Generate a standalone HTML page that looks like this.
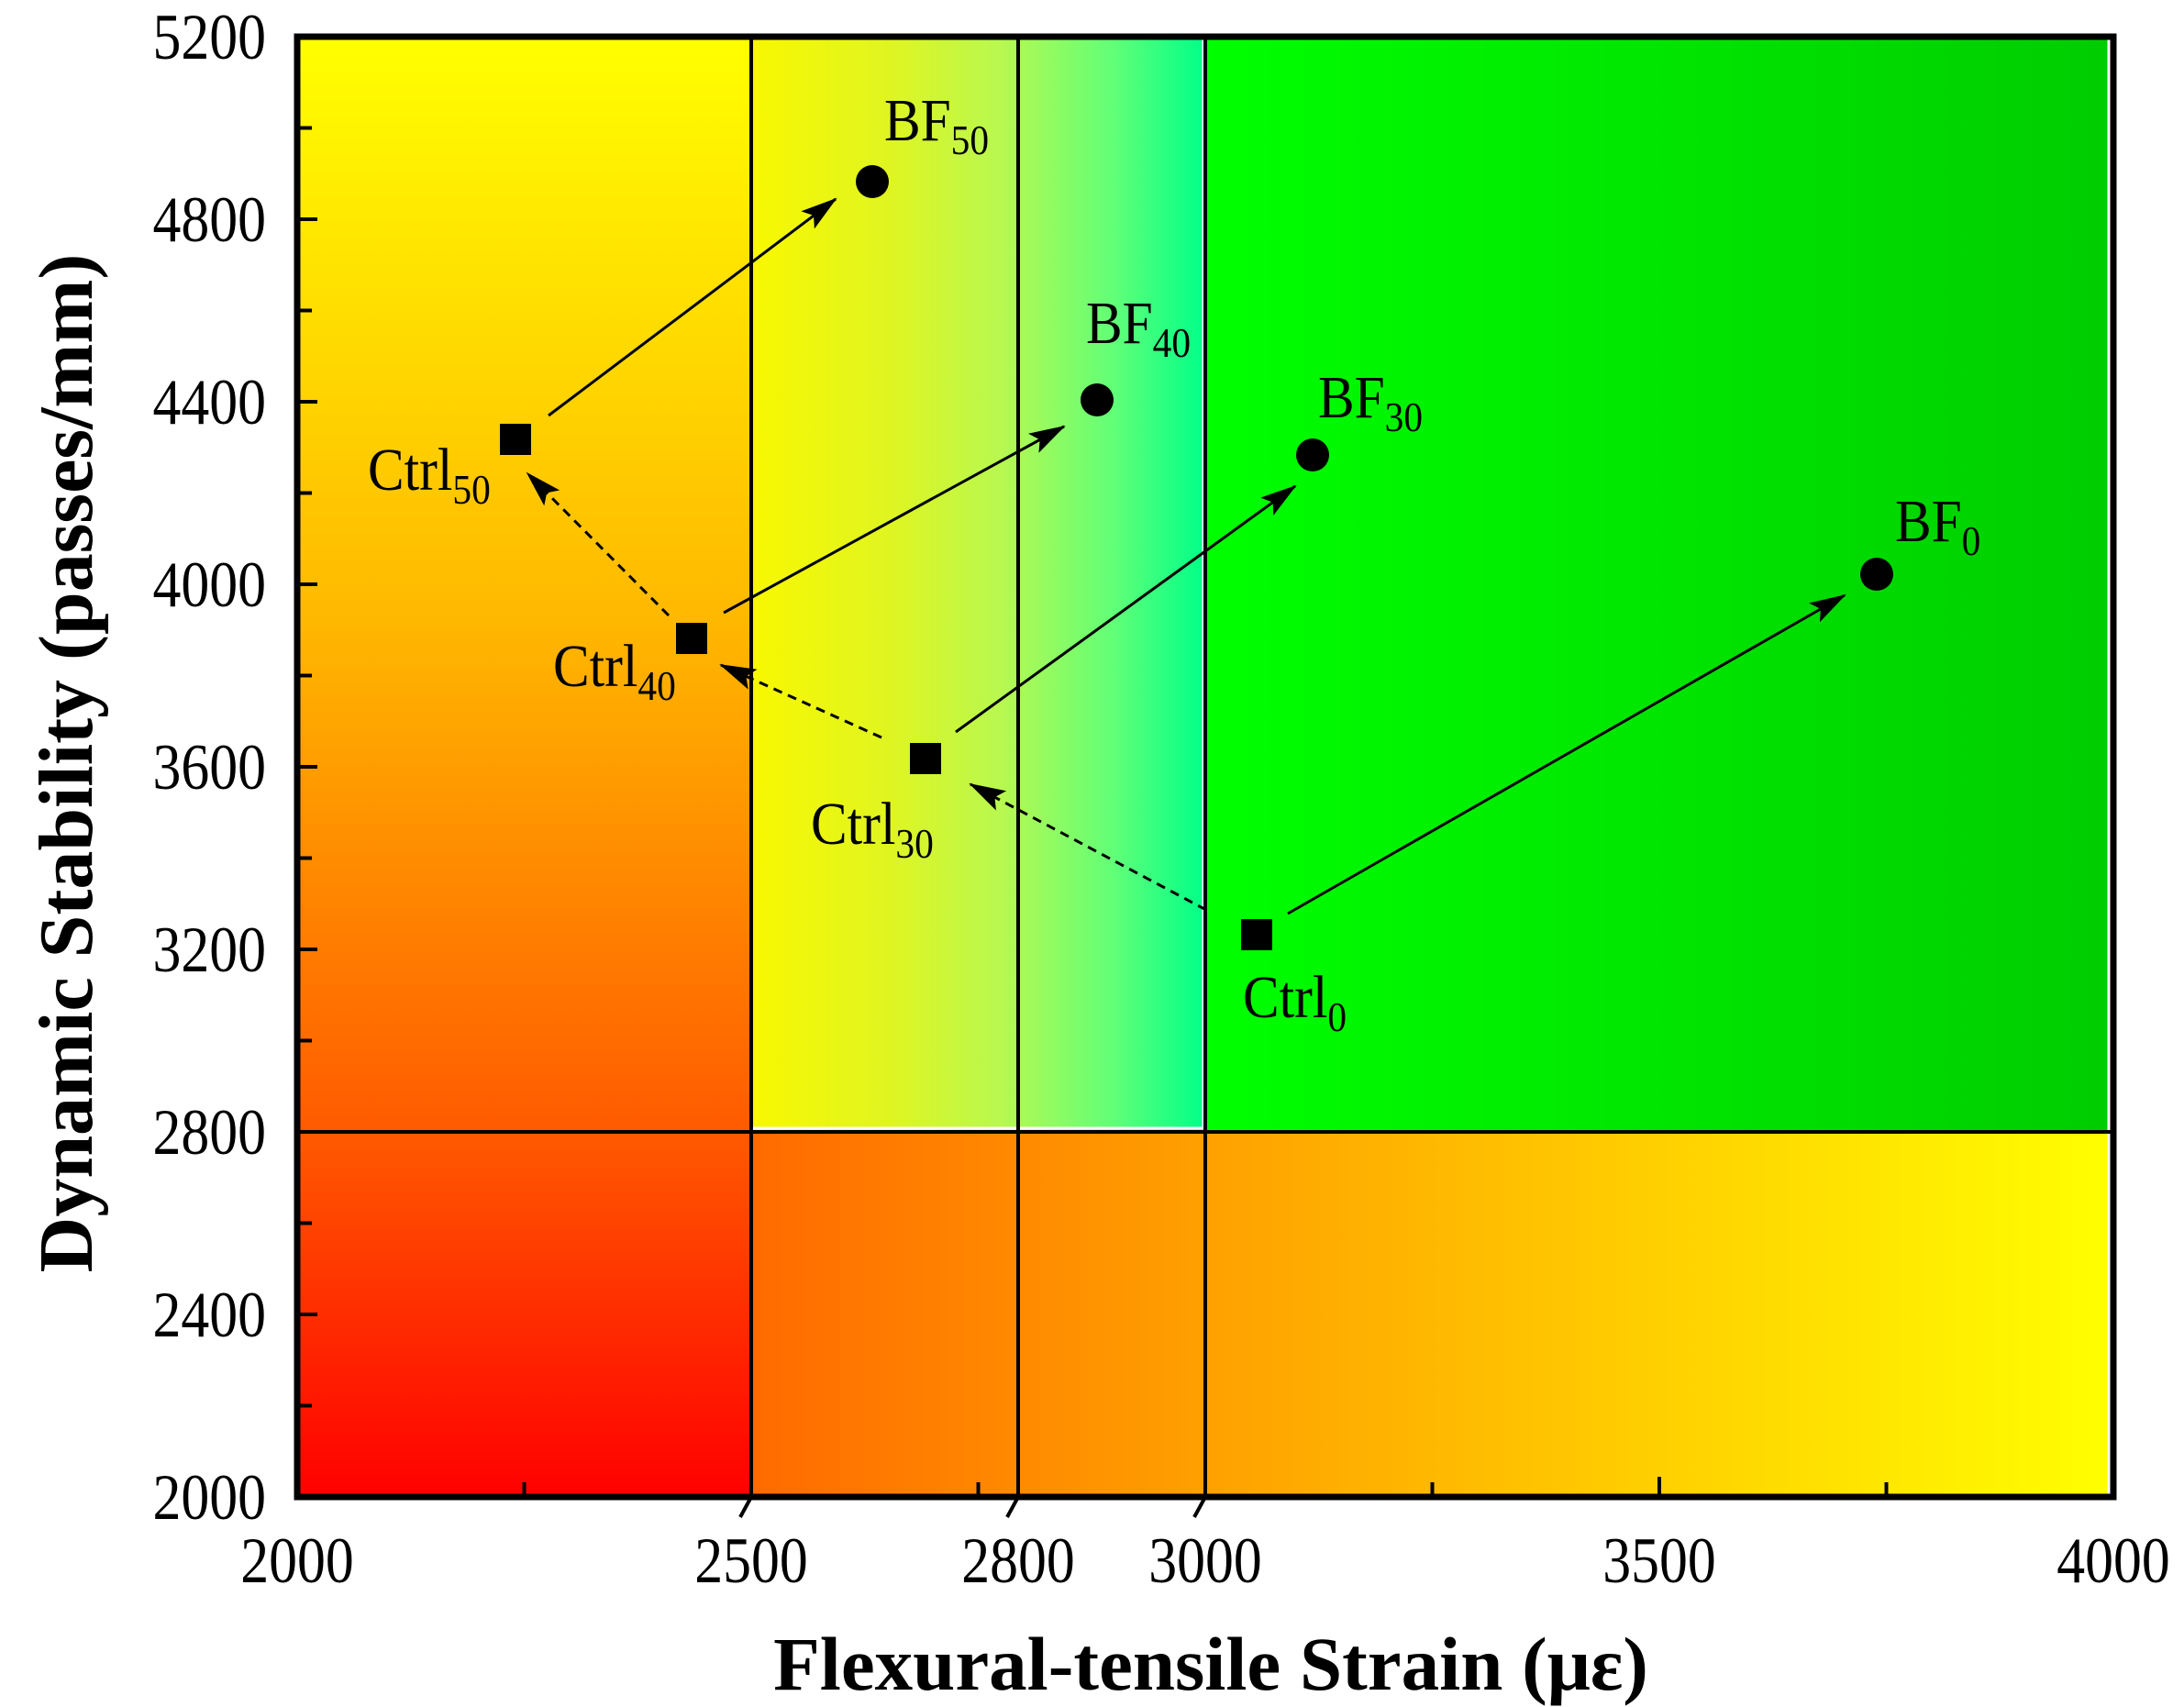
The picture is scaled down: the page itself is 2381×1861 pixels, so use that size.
<!DOCTYPE html>
<html><head><meta charset="utf-8"><style>html,body{margin:0;padding:0;background:#fff}svg{display:block}</style></head>
<body>
<svg width="2381" height="1861" viewBox="0 0 2381 1861" xmlns="http://www.w3.org/2000/svg" font-family="Liberation Serif, serif">
<defs>
<linearGradient id="gL" x1="0" y1="1" x2="0" y2="0"><stop offset="0" stop-color="#ff0000"/><stop offset="0.25" stop-color="#ff5a00"/><stop offset="0.6" stop-color="#ffb800"/><stop offset="1" stop-color="#ffff00"/></linearGradient>
<linearGradient id="gB" x1="0" y1="0" x2="1" y2="0"><stop offset="0" stop-color="#ff6a00"/><stop offset="0.33" stop-color="#ffa000"/><stop offset="1" stop-color="#ffff00"/></linearGradient>
<linearGradient id="gM" x1="0" y1="0" x2="1" y2="0"><stop offset="0" stop-color="#f8f800"/><stop offset="0.3" stop-color="#e0f520"/><stop offset="0.55" stop-color="#b8f850"/><stop offset="0.8" stop-color="#60ff78"/><stop offset="1" stop-color="#00ff88"/></linearGradient>
<linearGradient id="gR" x1="0" y1="0" x2="1" y2="0"><stop offset="0" stop-color="#00ff00"/><stop offset="1" stop-color="#00cc00"/></linearGradient>
<marker id="ah2" markerWidth="40" markerHeight="24" refX="38" refY="12" orient="auto" markerUnits="userSpaceOnUse"><path d="M0,0 L40,12 L0,24 L8,12 Z" fill="#000"/></marker>
</defs>
<rect x="324" y="40" width="495" height="1592" fill="url(#gL)"/>
<rect x="819" y="1234" width="1485" height="398" fill="url(#gB)"/>
<rect x="819" y="40" width="495" height="1194" fill="url(#gM)"/>
<rect x="819" y="40" width="493" height="1190" fill="none" stroke="#fff" stroke-width="3"/>
<rect x="1314" y="40" width="990" height="1194" fill="url(#gR)"/>
<line x1="2299" y1="40" x2="2299" y2="1632" stroke="#fff" stroke-width="3"/>
<g stroke="#000" stroke-width="4">
<line x1="819" y1="40" x2="819" y2="1632"/>
<line x1="1110" y1="40" x2="1110" y2="1632"/>
<line x1="1314" y1="40" x2="1314" y2="1632"/>
<line x1="324" y1="1234" x2="2304" y2="1234"/>
</g>
<rect x="324" y="40" width="1980" height="1592" fill="none" stroke="#000" stroke-width="7"/>
<g stroke="#000" stroke-width="4">
<line x1="324" y1="1532.5" x2="340" y2="1532.5"/><line x1="324" y1="1433" x2="346" y2="1433"/>
<line x1="324" y1="1333.5" x2="340" y2="1333.5"/><line x1="324" y1="1134.5" x2="340" y2="1134.5"/>
<line x1="324" y1="1035" x2="346" y2="1035"/><line x1="324" y1="935.5" x2="340" y2="935.5"/>
<line x1="324" y1="836" x2="346" y2="836"/><line x1="324" y1="736.5" x2="340" y2="736.5"/>
<line x1="324" y1="637" x2="346" y2="637"/><line x1="324" y1="537.5" x2="340" y2="537.5"/>
<line x1="324" y1="438" x2="346" y2="438"/><line x1="324" y1="338.5" x2="340" y2="338.5"/>
<line x1="324" y1="239" x2="346" y2="239"/><line x1="324" y1="139.5" x2="340" y2="139.5"/>
<line x1="571.5" y1="1632" x2="571.5" y2="1616"/><line x1="1066.5" y1="1632" x2="1066.5" y2="1616"/>
<line x1="1561.5" y1="1632" x2="1561.5" y2="1616"/><line x1="1809" y1="1632" x2="1809" y2="1610"/>
<line x1="2056.5" y1="1632" x2="2056.5" y2="1616"/>
<line x1="819" y1="1632" x2="807" y2="1654"/><line x1="1110" y1="1632" x2="1098" y2="1654"/><line x1="1314" y1="1632" x2="1302" y2="1654"/>
</g>
<g font-size="71" text-anchor="end" fill="#000">
<text transform="translate(290,1656) scale(0.87,1)">2000</text>
<text transform="translate(290,1457) scale(0.87,1)">2400</text>
<text transform="translate(290,1258) scale(0.87,1)">2800</text>
<text transform="translate(290,1059) scale(0.87,1)">3200</text>
<text transform="translate(290,860) scale(0.87,1)">3600</text>
<text transform="translate(290,661) scale(0.87,1)">4000</text>
<text transform="translate(290,462) scale(0.87,1)">4400</text>
<text transform="translate(290,263) scale(0.87,1)">4800</text>
<text transform="translate(290,64) scale(0.87,1)">5200</text>
</g>
<g font-size="71" text-anchor="middle" fill="#000">
<text transform="translate(324,1725) scale(0.87,1)">2000</text>
<text transform="translate(819,1725) scale(0.87,1)">2500</text>
<text transform="translate(1110,1725) scale(0.87,1)">2800</text>
<text transform="translate(1314,1725) scale(0.87,1)">3000</text>
<text transform="translate(1809,1725) scale(0.87,1)">3500</text>
<text transform="translate(2304,1725) scale(0.87,1)">4000</text>
</g>
<text x="1320" y="1842" font-size="83" font-weight="bold" text-anchor="middle">Flexural-tensile Strain (με)</text>
<text transform="translate(100,832) rotate(-90)" font-size="84" font-weight="bold" text-anchor="middle">Dynamic Stability (passes/mm)</text>
<g stroke="#000" stroke-width="3" fill="none">
<line x1="598" y1="453" x2="911" y2="217" marker-end="url(#ah2)"/>
<line x1="789" y1="668" x2="1160" y2="465" marker-end="url(#ah2)"/>
<line x1="1042" y1="798" x2="1412" y2="530" marker-end="url(#ah2)"/>
<line x1="1404" y1="996" x2="2011" y2="649" marker-end="url(#ah2)"/>
<g stroke-dasharray="10,7">
<line x1="1315" y1="992" x2="1058" y2="855" marker-end="url(#ah2)"/>
<line x1="961" y1="804" x2="786" y2="725" marker-end="url(#ah2)"/>
<line x1="729" y1="671" x2="575" y2="516" marker-end="url(#ah2)"/>
</g>
</g>
<g fill="#000">
<rect x="545" y="462" width="34" height="34"/><rect x="737" y="679" width="34" height="34"/>
<rect x="992" y="810" width="34" height="34"/><rect x="1353" y="1002" width="34" height="34"/>
<circle cx="951" cy="198" r="18"/><circle cx="1196" cy="436" r="18"/>
<circle cx="1431" cy="496" r="18"/><circle cx="2046" cy="626" r="18"/>
</g>
<g font-size="66" fill="#000">
<text transform="translate(964,153) scale(0.9,1)">BF<tspan font-size="46" dy="15">50</tspan></text>
<text transform="translate(1184,374) scale(0.9,1)">BF<tspan font-size="46" dy="15">40</tspan></text>
<text transform="translate(1437,455) scale(0.9,1)">BF<tspan font-size="46" dy="15">30</tspan></text>
<text transform="translate(2066,590) scale(0.9,1)">BF<tspan font-size="46" dy="15">0</tspan></text>
<text transform="translate(401,534) scale(0.9,1)">Ctrl<tspan font-size="46" dy="15">50</tspan></text>
<text transform="translate(603,748) scale(0.9,1)">Ctrl<tspan font-size="46" dy="15">40</tspan></text>
<text transform="translate(884,920) scale(0.9,1)">Ctrl<tspan font-size="46" dy="15">30</tspan></text>
<text transform="translate(1355,1109) scale(0.9,1)">Ctrl<tspan font-size="46" dy="15">0</tspan></text>
</g>
</svg>
</body></html>
